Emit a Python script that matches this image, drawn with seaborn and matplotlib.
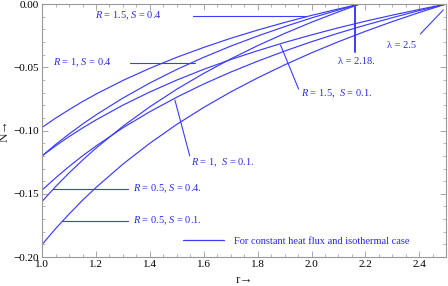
import numpy as np
import pandas as pd
import matplotlib
matplotlib.use("Agg")
import matplotlib.pyplot as plt
import seaborn as sns
from matplotlib.ticker import MultipleLocator, FuncFormatter
from matplotlib.lines import Line2D

# ---- data ----
x_218 = [1.0, 1.05, 1.1, 1.15, 1.2, 1.3, 1.4, 1.5, 1.6, 1.7, 1.8, 1.9, 2.0, 2.1, 2.18]
x_25 = [1.0, 1.05, 1.1, 1.15, 1.2, 1.3, 1.4, 1.5, 1.6, 1.7, 1.8, 1.9, 2.0, 2.1, 2.2, 2.3, 2.4, 2.5]

# S = 0.4 (lambda = 2.18)
n_R15_S04 = [-0.0975, -0.0902, -0.0835, -0.0771, -0.0712, -0.0604, -0.0508, -0.0421, -0.0343, -0.0271, -0.0206, -0.0146, -0.0090, -0.0039, 0.0]
n_R1_S04 = [-0.1200, -0.1110, -0.1027, -0.0949, -0.0876, -0.0743, -0.0624, -0.0517, -0.0421, -0.0333, -0.0253, -0.0179, -0.0110, -0.0047, 0.0]
n_R05_S04 = [-0.1560, -0.1443, -0.1335, -0.1234, -0.1139, -0.0966, -0.0812, -0.0673, -0.0548, -0.0434, -0.0329, -0.0233, -0.0144, -0.0062, 0.0]
# S = 0.1 (lambda = 2.5)
n_R15_S01 = [-0.1200, -0.1121, -0.1048, -0.0980, -0.0916, -0.0799, -0.0695, -0.0601, -0.0516, -0.0439, -0.0369, -0.0304, -0.0244, -0.0188, -0.0136, -0.0088, -0.0043, 0.0]
n_R1_S01 = [-0.1470, -0.1374, -0.1284, -0.1200, -0.1122, -0.0978, -0.0851, -0.0736, -0.0632, -0.0538, -0.0452, -0.0372, -0.0298, -0.0230, -0.0167, -0.0108, -0.0052, 0.0]
n_R05_S01 = [-0.1900, -0.1775, -0.1660, -0.1551, -0.1450, -0.1265, -0.1100, -0.0951, -0.0817, -0.0695, -0.0584, -0.0481, -0.0386, -0.0298, -0.0216, -0.0139, -0.0067, 0.0]

x_ticks = [1.0, 1.2, 1.4, 1.6, 1.8, 2.0, 2.2, 2.4]
y_ticks = [-0.20, -0.15, -0.10, -0.05, 0.00]

curves = [
    ("R=1.5,S=0.4", x_218, n_R15_S04),
    ("R=1,S=0.4", x_218, n_R1_S04),
    ("R=0.5,S=0.4", x_218, n_R05_S04),
    ("R=1.5,S=0.1", x_25, n_R15_S01),
    ("R=1,S=0.1", x_25, n_R1_S01),
    ("R=0.5,S=0.1", x_25, n_R05_S01),
]
frames = [pd.DataFrame({"r": xs, "N": ys, "case": name}) for name, xs, ys in curves]
df = pd.concat(frames, ignore_index=True)

# ---- styling ----
sns.set_style("ticks")
plt.rcParams["font.family"] = ["Liberation Serif", "DejaVu Serif"]
plt.rcParams["mathtext.fontset"] = "custom"
plt.rcParams["mathtext.rm"] = "Liberation Serif"
plt.rcParams["mathtext.it"] = "Liberation Serif:italic"

LINE = "#3c3cff"
TXT = "#2828e6"
GRAY = "#999999"

fig = plt.figure(figsize=(4.48, 2.86), dpi=100)
ax = fig.add_axes([0.094, 0.101, 0.902, 0.885])

sns.lineplot(data=df, x="r", y="N", units="case", estimator=None, sort=False,
             color=LINE, lw=0.85, ax=ax, legend=False)

ax.set_xlim(1.0, 2.5)
ax.set_ylim(-0.20, 0.0)
ax.xaxis.set_major_locator(MultipleLocator(0.2))
ax.xaxis.set_minor_locator(MultipleLocator(0.05))
ax.yaxis.set_major_locator(MultipleLocator(0.05))
ax.yaxis.set_minor_locator(MultipleLocator(0.01))
ax.set_xticks(x_ticks)
ax.set_yticks(y_ticks)
ax.xaxis.set_major_formatter(FuncFormatter(lambda v, p: f"{v:.1f}"))
ax.yaxis.set_major_formatter(FuncFormatter(lambda v, p: f"{v:.2f}".replace("-", "\u2212") if abs(v) > 1e-9 else "0.00"))
ax.tick_params(which="both", direction="in", top=True, right=True, color=GRAY,
               labelsize=8, pad=2, labelcolor="black")
ax.tick_params(which="major", length=4, width=0.6)
ax.tick_params(which="minor", length=2, width=0.5)
for s in ax.spines.values():
    s.set_color(GRAY)
    s.set_linewidth(0.8)

ax.set_xlabel("r\u2192", fontsize=9.5, labelpad=4)
ax.set_ylabel("N\u2192", fontsize=9.5, labelpad=2)

# ---- annotations ----
def note(text, xytext, ha="left"):
    ax.text(xytext[0], xytext[1], text, color=TXT, fontsize=7.5, ha=ha, va="center")

ann = dict(color=LINE, lw=0.8)
note(r"$R$ = 1.5, $S$ = 0.4", (1.196, -0.0095))
ax.plot([1.56, 1.98], [-0.0095, -0.0095], **ann)

note(r"$R$ = 1, $S$ = 0.4", (1.04, -0.0466))
ax.plot([1.326, 1.567], [-0.0466, -0.0466], **ann)

note(r"$R$ = 1.5,  $S$ = 0.1.", (1.960, -0.0711))
ax.plot([1.952, 1.885], [-0.0672, -0.0324], **ann)

note(r"$R$ = 1,  $S$ = 0.1.", (1.553, -0.1257))
ax.plot([1.548, 1.493], [-0.1200, -0.0759], **ann)

note(r"$R$ = 0.5, $S$ = 0.4.", (1.337, -0.1462))
ax.plot([1.04, 1.32], [-0.1462, -0.1462], **ann)

note(r"$R$ = 0.5, $S$ = 0.1.", (1.337, -0.1715))
ax.plot([1.075, 1.32], [-0.1715, -0.1715], **ann)

note("\u03bb = 2.18.", (2.10, -0.0458))
ax.plot([2.163, 2.163], [-0.0008, -0.038], color=LINE, lw=1.4)

note("\u03bb = 2.5", (2.28, -0.033))
ax.plot([2.404, 2.489], [-0.0237, -0.0047], **ann)

handle = Line2D([], [], color=LINE, lw=0.9)
leg = ax.legend([handle], ["For constant heat flux and isothermal case"],
                loc="lower left", bbox_to_anchor=(0.33, 0.015), frameon=False,
                handlelength=4.0, handletextpad=0.9, fontsize=7.5, borderpad=0.2)
for t in leg.get_texts():
    t.set_color(TXT)

fig.savefig("out.png", dpi=100)
